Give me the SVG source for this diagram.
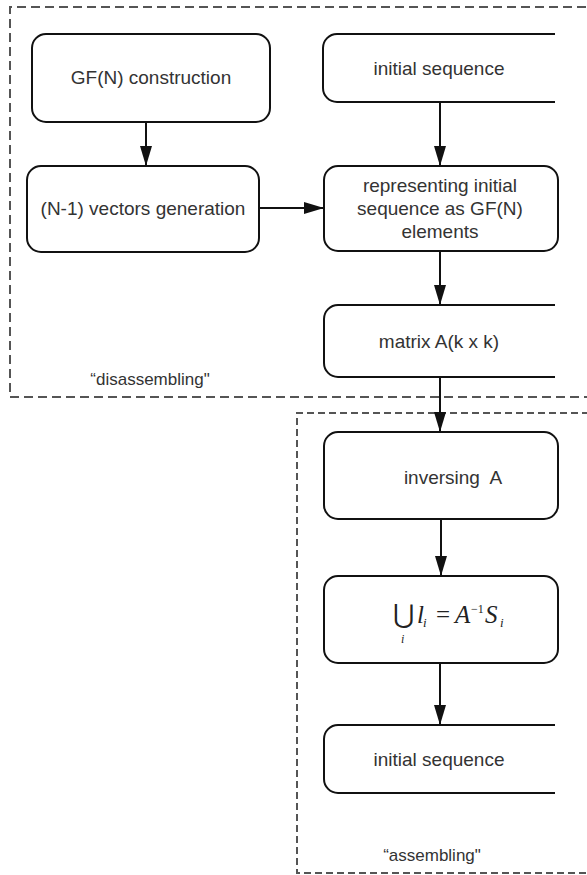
<svg xmlns="http://www.w3.org/2000/svg" width="587" height="875" viewBox="0 0 587 875">
<style>
.box{fill:#fff;stroke:#111;stroke-width:2}
.lbl{font-family:"Liberation Sans",Arial,sans-serif;font-size:19px;fill:#333;text-anchor:middle}
.grp{fill:none;stroke:#555;stroke-width:2}
.note{font-family:"Liberation Sans",Arial,sans-serif;font-size:17px;fill:#333;text-anchor:middle}
.conn{stroke:#111;stroke-width:2;fill:none}
.math{font-family:"Liberation Serif","Times New Roman",serif;font-style:italic;fill:#222}
</style>
<defs>
<marker id="ah" markerWidth="20" markerHeight="12" refX="20" refY="6" orient="auto" markerUnits="userSpaceOnUse">
<path d="M0,0 L20,6 L0,12 Z" fill="#111"/>
</marker>
</defs>
<rect width="587" height="875" fill="#fff"/>

<g id="disassembling">
<path class="grp" d="M600,7 H10 V397 H600" stroke-dasharray="9 5"/>
<text class="note" x="150" y="385">“disassembling"</text>
</g>
<g id="assembling">
<path class="grp" d="M600,413 H297 V873 H600" stroke-dasharray="7 4"/>
<text class="note" x="432" y="861">“assembling"</text>
</g>

<g id="gfn">
<rect class="box" x="32" y="34" width="238" height="88" rx="14"/>
<text class="lbl" x="151" y="84">GF(N) construction</text>
</g>
<g id="vectors">
<rect class="box" x="27" y="166" width="232" height="86" rx="14"/>
<text class="lbl" x="143" y="215">(N-1) vectors generation</text>
</g>
<g id="init1">
<path class="box" d="M555,34 H337 A14,14 0 0 0 323,48 V88 A14,14 0 0 0 337,102 H555"/>
<text class="lbl" x="439" y="75">initial sequence</text>
</g>
<g id="repr">
<rect class="box" x="324" y="166" width="234" height="85" rx="14"/>
<text class="lbl" x="440" y="192">representing initial</text>
<text class="lbl" x="440" y="215">sequence as GF(N)</text>
<text class="lbl" x="440" y="238">elements</text>
</g>
<g id="matrix">
<path class="box" d="M555,305 H338 A14,14 0 0 0 324,319 V363 A14,14 0 0 0 338,377 H555"/>
<text class="lbl" x="439" y="348">matrix A(k x k)</text>
</g>
<g id="inverse">
<rect class="box" x="324" y="432" width="234" height="87" rx="14"/>
<text class="lbl" x="453" y="484" style="white-space:pre">inversing  A</text>
</g>
<g id="formula">
<rect class="box" x="324" y="576" width="234" height="87" rx="14"/>
<text x="393" y="623" font-family="'DejaVu Serif',serif" font-size="26" fill="#222">⋃</text>
<text class="math" x="401" y="643" font-size="12">i</text>
<text class="math" font-size="25" y="623"><tspan x="417">l</tspan><tspan x="423" dy="4" font-size="13">i</tspan><tspan x="436" dy="-4" font-style="normal">=</tspan><tspan x="455">A</tspan><tspan x="471" dy="-10" font-size="12" font-style="normal">−1</tspan><tspan x="485" dy="10">S</tspan><tspan x="500" dy="4" font-size="13">i</tspan></text>
</g>
<g id="init2">
<path class="box" d="M555,725 H338 A14,14 0 0 0 324,739 V779 A14,14 0 0 0 338,793 H555"/>
<text class="lbl" x="439" y="766">initial sequence</text>
</g>

<g id="connectors">
<line class="conn" x1="146" y1="122" x2="146" y2="166" marker-end="url(#ah)"/>
<line class="conn" x1="440" y1="102" x2="440" y2="166" marker-end="url(#ah)"/>
<line class="conn" x1="259" y1="208" x2="324" y2="208" marker-end="url(#ah)"/>
<line class="conn" x1="440" y1="251" x2="440" y2="305" marker-end="url(#ah)"/>
<line class="conn" x1="440" y1="377" x2="440" y2="432" marker-end="url(#ah)"/>
<line class="conn" x1="441" y1="519" x2="441" y2="576" marker-end="url(#ah)"/>
<line class="conn" x1="440" y1="663" x2="440" y2="725" marker-end="url(#ah)"/>
</g>
</svg>
